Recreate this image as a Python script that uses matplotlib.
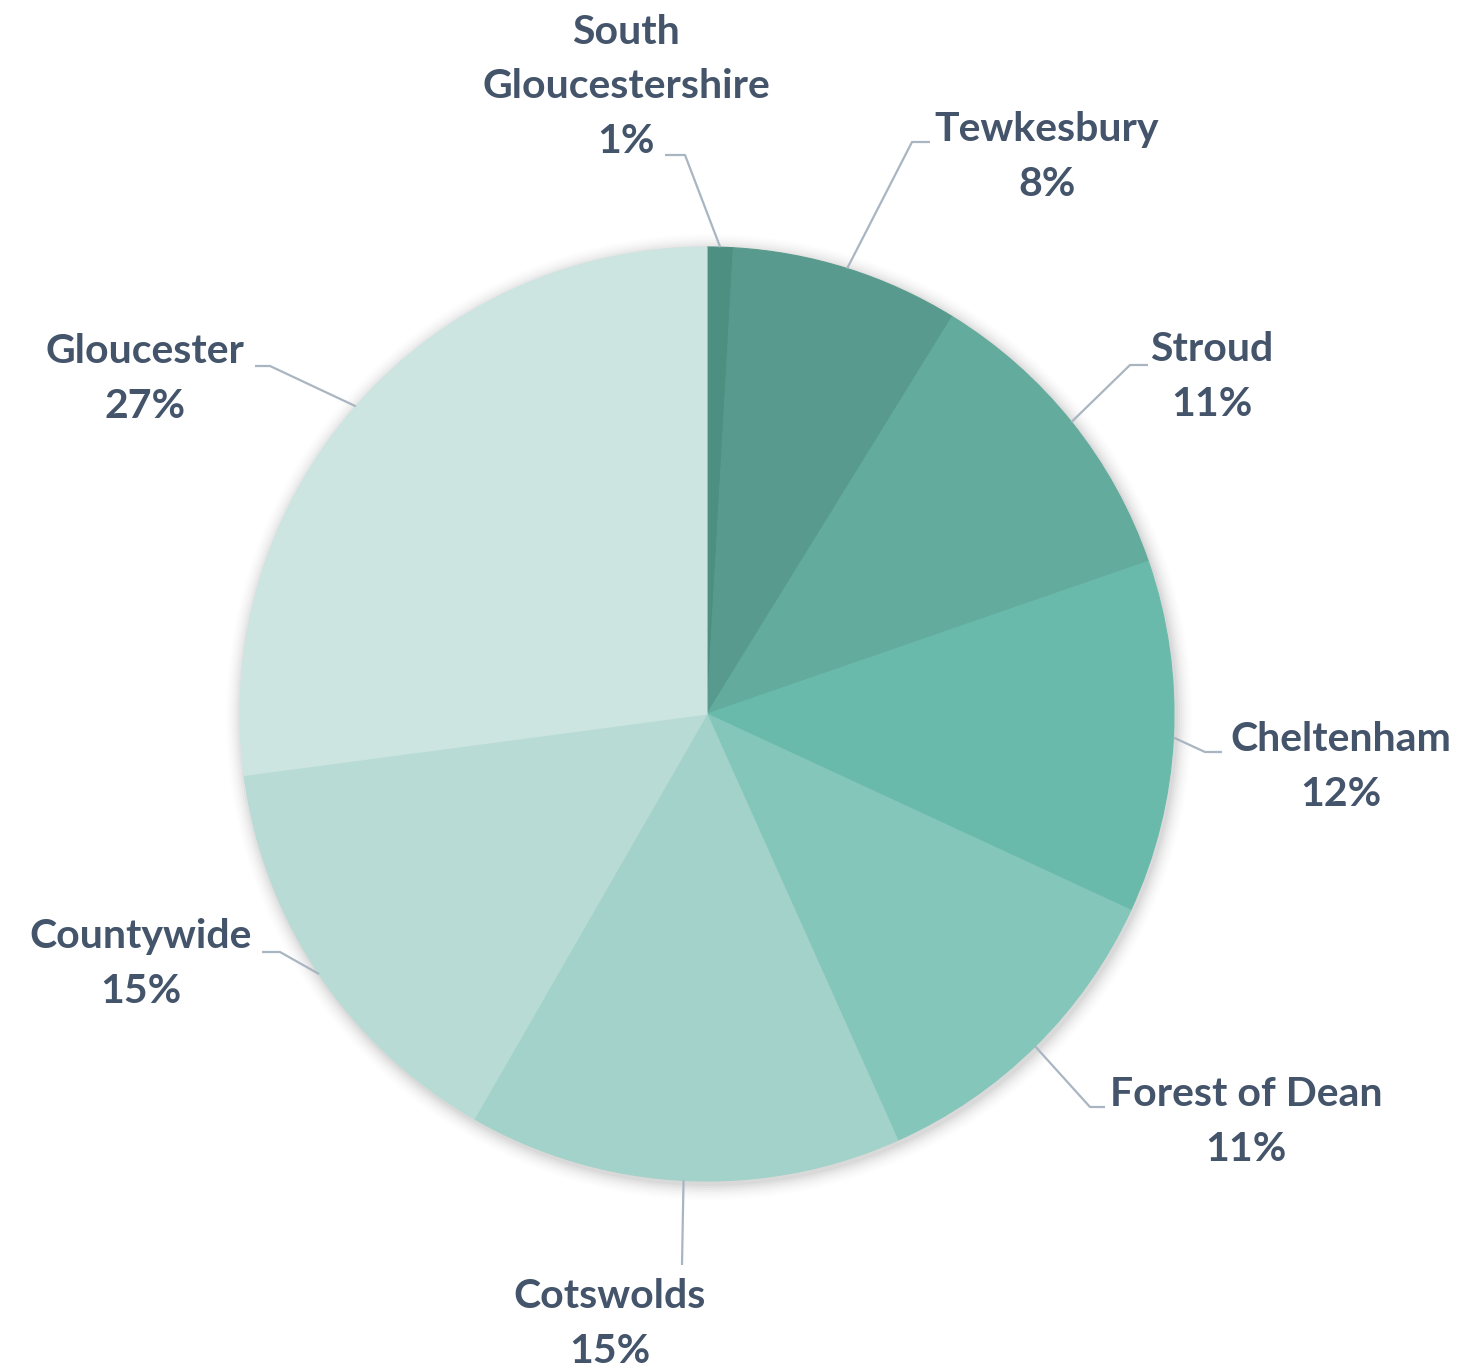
import numpy as np
import matplotlib
matplotlib.use("Agg")
import matplotlib.pyplot as plt
from matplotlib.patches import Circle

# ---- data ----
categories = ["South\nGloucestershire", "Tewkesbury", "Stroud", "Cheltenham",
              "Forest of Dean", "Cotswolds", "Countywide", "Gloucester"]
values = [0.9, 7.9, 10.9, 12.2, 11.4, 15.0, 14.6, 27.1]
colors = ["#4d8f81", "#589b8e", "#62ab9d", "#6abaab", "#84c6ba", "#a2d2c9", "#b8dcd5", "#cde5e1"]

W, H = 1475, 1371
fig = plt.figure(figsize=(W / 100, H / 100), dpi=100)
ax = fig.add_axes([0, 0, 1, 1])
ax.set_xlim(0, W)
ax.set_ylim(0, H)
ax.set_aspect("equal")
ax.axis("off")

cx, cy, R = 707, H - 714, 467

# soft shadow
for i, a in enumerate(np.linspace(0.05, 0.012, 8)):
    ax.add_patch(Circle((cx + 2, cy - 3), R + 2 + i * 2.0, color="#000000", alpha=a * 0.6, lw=0, zorder=0))

wedges, _ = ax.pie(values, colors=colors, startangle=90, counterclock=False,
                   center=(cx, cy), radius=R, frame=True,
                   wedgeprops=dict(linewidth=0.8))
for w in wedges:
    w.set_zorder(2)
    w.set_edgecolor(w.get_facecolor())
ax.set_xlim(0, W)
ax.set_ylim(0, H)
ax.axis("off")

# ---- label layout (pixel positions from top-left) ----
# text center (x, y), elbow point, end point
layout = [
    ((626, 87), (685, 155), (665, 155)),
    ((1047, 157), (912, 142), (930, 142)),
    ((1212, 377), (1130, 365), (1148, 365)),
    ((1341, 767), (1205, 752), (1222, 752)),
    ((1246, 1122), (1090, 1107), (1105, 1107)),
    ((610, 1324), (682, 1265), (682, 1265)),
    ((141, 964), (280, 952), (262, 952)),
    ((145, 379), (270, 366), (255, 366)),
]

total = sum(values)
cum = 0.0
txtcol = "#44546a"
linecol = "#a9b6c2"
for cat, v, (tpos, elbow, end) in zip(categories, values, layout):
    mid = (cum + v / 2) / total
    cum += v
    ang = np.deg2rad(90 - 360 * mid)
    sx, sy = cx + R * np.cos(ang), cy + R * np.sin(ang)
    pct = f"{round(v / total * 100):d}%"
    ax.plot([sx, elbow[0], end[0]], [sy, H - elbow[1], H - end[1]],
            color=linecol, lw=1.6, zorder=3, solid_capstyle="butt")
    ax.text(tpos[0], H - tpos[1], f"{cat}\n{pct}", ha="center", va="center",
            multialignment="center", fontsize=29.5, fontfamily="Lato", fontweight="bold",
            color=txtcol, linespacing=1.58, zorder=4)

fig.savefig("out.png", dpi=100, facecolor="white")
